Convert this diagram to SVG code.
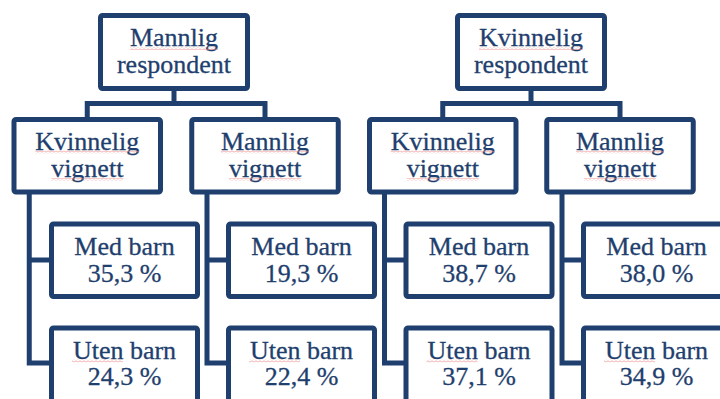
<svg xmlns="http://www.w3.org/2000/svg" width="720" height="399" viewBox="0 0 720 399">
<defs>
<pattern id="wave" width="4" height="3" patternUnits="userSpaceOnUse">
<path d="M0,0.8 L2,2.2 L4,0.8" fill="none" stroke="#ef8a8a" stroke-width="0.7"/>
</pattern>
</defs>
<style>
.box{fill:#ffffff;stroke:#1f3f6e;stroke-width:5;stroke-linejoin:round}
.conn{fill:none;stroke:#1f3f6e;stroke-width:5;stroke-linejoin:miter}
.t{font-size:26px;fill:#1f3f6e;stroke:#1f3f6e;stroke-width:0.3;text-anchor:middle}
.sq{fill:url(#wave)}
</style>
<rect width="720" height="399" fill="#ffffff"/>
<g id="connectors">
<path class="conn" d="M174,88.5 V103.5 M87.25,119.5 V103.5 H265 V119.5"/>
<path class="conn" d="M531,88.5 V103.5 M442.75,119.5 V103.5 H620 V119.5"/>
<path class="conn" d="M29.25,192 V363 H51.5 M29.25,260 H51.5"/>
<path class="conn" d="M207,192 V363 H228.5 M207,260 H228.5"/>
<path class="conn" d="M384.5,192 V363 H406 M384.5,260 H406"/>
<path class="conn" d="M562,192 V363 H583.5 M562,260 H583.5"/>
</g>
<g font-family="'Liberation Serif', 'Times New Roman', serif">
<g id="mannlig-respondent">
<rect class="box" x="100.5" y="15.5" width="147" height="73" rx="2"/>
<text class="t" x="174" y="46">Mannlig</text>
<text class="t" x="174" y="73.3">respondent</text>
<rect class="sq" x="130" y="47" width="88" height="3"/>
</g>
<g id="kvinnelig-respondent">
<rect class="box" x="457.5" y="15.5" width="147" height="73" rx="2"/>
<text class="t" x="531" y="46">Kvinnelig</text>
<text class="t" x="531" y="73.3">respondent</text>
<rect class="sq" x="479" y="47" width="104" height="3"/>
</g>
<g id="m-kvinnelig-vignett">
<rect class="box" x="14" y="119.5" width="146.5" height="72.5" rx="2"/>
<text class="t" x="87.25" y="149.5">Kvinnelig</text>
<text class="t" x="87.25" y="177">vignett</text>
<rect class="sq" x="35.25" y="150.5" width="104" height="3"/>
<rect class="sq" x="51.2" y="178" width="72" height="3"/>
</g>
<g id="m-mannlig-vignett">
<rect class="box" x="191.75" y="119.5" width="146.5" height="72.5" rx="2"/>
<text class="t" x="265" y="149.5">Mannlig</text>
<text class="t" x="265" y="177">vignett</text>
<rect class="sq" x="221" y="150.5" width="88" height="3"/>
<rect class="sq" x="229" y="178" width="72" height="3"/>
</g>
<g id="k-kvinnelig-vignett">
<rect class="box" x="369.5" y="119.5" width="146.5" height="72.5" rx="2"/>
<text class="t" x="442.75" y="149.5">Kvinnelig</text>
<text class="t" x="442.75" y="177">vignett</text>
<rect class="sq" x="390.75" y="150.5" width="104" height="3"/>
<rect class="sq" x="406.7" y="178" width="72" height="3"/>
</g>
<g id="k-mannlig-vignett">
<rect class="box" x="546.75" y="119.5" width="146.5" height="72.5" rx="2"/>
<text class="t" x="620" y="149.5">Mannlig</text>
<text class="t" x="620" y="177">vignett</text>
<rect class="sq" x="576" y="150.5" width="88" height="3"/>
<rect class="sq" x="584" y="178" width="72" height="3"/>
</g>
<g id="mk-med-barn">
<rect class="box" x="51.5" y="224" width="146" height="72.5" rx="2"/>
<text class="t" x="124.5" y="255">Med barn</text>
<text class="t" x="124.5" y="282">35,3 %</text>
</g>
<g id="mk-uten-barn">
<rect class="box" x="51.5" y="328" width="146" height="90" rx="2"/>
<text class="t" x="124.5" y="358.5">Uten barn</text>
<text class="t" x="124.5" y="385">24,3 %</text>
<rect class="sq" x="72" y="359.5" width="51" height="3"/>
</g>
<g id="mm-med-barn">
<rect class="box" x="228.5" y="224" width="146" height="72.5" rx="2"/>
<text class="t" x="301.5" y="255">Med barn</text>
<text class="t" x="301.5" y="282">19,3 %</text>
</g>
<g id="mm-uten-barn">
<rect class="box" x="228.5" y="328" width="146" height="90" rx="2"/>
<text class="t" x="301.5" y="358.5">Uten barn</text>
<text class="t" x="301.5" y="385">22,4 %</text>
<rect class="sq" x="249" y="359.5" width="51" height="3"/>
</g>
<g id="kk-med-barn">
<rect class="box" x="406" y="224" width="146" height="72.5" rx="2"/>
<text class="t" x="479" y="255">Med barn</text>
<text class="t" x="479" y="282">38,7 %</text>
</g>
<g id="kk-uten-barn">
<rect class="box" x="406" y="328" width="146" height="90" rx="2"/>
<text class="t" x="479" y="358.5">Uten barn</text>
<text class="t" x="479" y="385">37,1 %</text>
<rect class="sq" x="426.5" y="359.5" width="51" height="3"/>
</g>
<g id="km-med-barn">
<rect class="box" x="583.5" y="224" width="146" height="72.5" rx="2"/>
<text class="t" x="656.5" y="255">Med barn</text>
<text class="t" x="656.5" y="282">38,0 %</text>
</g>
<g id="km-uten-barn">
<rect class="box" x="583.5" y="328" width="146" height="90" rx="2"/>
<text class="t" x="656.5" y="358.5">Uten barn</text>
<text class="t" x="656.5" y="385">34,9 %</text>
<rect class="sq" x="604" y="359.5" width="51" height="3"/>
</g>
</g>
</svg>
